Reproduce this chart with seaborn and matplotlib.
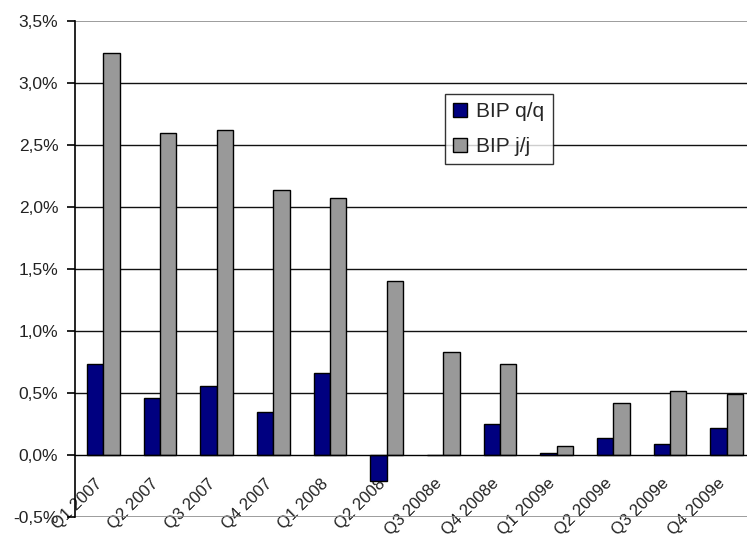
import matplotlib
matplotlib.use("Agg")
import matplotlib.pyplot as plt
import seaborn as sns
import pandas as pd
from matplotlib.ticker import FuncFormatter, MultipleLocator
from matplotlib.transforms import ScaledTranslation

quarters = ["Q1 2007", "Q2 2007", "Q3 2007", "Q4 2007", "Q1 2008", "Q2 2008",
            "Q3 2008e", "Q4 2008e", "Q1 2009e", "Q2 2009e", "Q3 2009e", "Q4 2009e"]
bip_qq = [0.73, 0.46, 0.56, 0.35, 0.66, -0.21, 0.0, 0.25, 0.014, 0.135, 0.087, 0.22]
bip_jj = [3.24, 2.60, 2.62, 2.14, 2.07, 1.40, 0.83, 0.73, 0.073, 0.42, 0.52, 0.49]
series = ["BIP q/q", "BIP j/j"]
colors = ["#000080", "#999999"]

df = pd.DataFrame({
    "Quartal": quarters * 2,
    "Wert": bip_qq + bip_jj,
    "Reihe": [series[0]] * len(quarters) + [series[1]] * len(quarters),
})

sns.set_style("white")
plt.rcParams["font.family"] = ["Liberation Sans", "DejaVu Sans"]

fig = plt.figure(figsize=(7.47, 5.38), dpi=100)
ax = fig.add_axes([75 / 747, 21 / 538, 680 / 747, 496 / 538])

sns.barplot(data=df, x="Quartal", y="Wert", hue="Reihe", order=quarters,
            hue_order=series, palette=colors, width=0.58, gap=0,
            edgecolor="black", linewidth=1.0, saturation=1, ax=ax, zorder=3)

ax.set_xlim(-0.5, len(quarters) - 0.5)
ax.set_ylim(-0.5, 3.5)
ax.yaxis.set_major_locator(MultipleLocator(0.5))
ax.yaxis.set_major_formatter(FuncFormatter(lambda v, _: f"{v:.1f}%".replace(".", ",")))

# horizontal gridlines inside the plot area
for v in [0.5, 1.0, 1.5, 2.0, 2.5, 3.0]:
    ax.axhline(v, color="#111111", lw=1.0, zorder=1)
ax.axhline(3.5, color="#8c8c8c", lw=1.2, zorder=1)
ax.axhline(-0.5, color="#8c8c8c", lw=1.2, zorder=1)

# category axis crosses at zero
ax.spines["bottom"].set_position(("data", 0))
ax.spines["bottom"].set_color("black")
ax.spines["bottom"].set_linewidth(1.0)
ax.spines["bottom"].set_zorder(4)
ax.spines["left"].set_color("black")
ax.spines["left"].set_linewidth(1.2)
ax.spines["top"].set_visible(False)
ax.spines["right"].set_visible(False)

ax.set_xticks(range(len(quarters)))
ax.set_xticks([i + 0.5 for i in range(len(quarters))], minor=True)
ax.tick_params(axis="x", which="major", length=0, pad=0)
ax.tick_params(axis="x", which="minor", length=5, width=1.2, color="black", direction="out")
ax.set_xticklabels(quarters, rotation=45, ha="right", va="top",
                   rotation_mode="anchor", fontsize=12, color="#222222")
shift = ScaledTranslation(-9 / 100, -21 / 100, fig.dpi_scale_trans)
for lab in ax.get_xticklabels():
    lab.set_transform(lab.get_transform() + shift)

ax.tick_params(axis="y", which="major", left=True, length=6, width=1.2,
               color="black", direction="out", labelsize=12.5, labelcolor="#222222", pad=6)

ax.set_xlabel("")
ax.set_ylabel("")

leg = ax.legend(loc="upper left", bbox_to_anchor=((445 - 75) / 680, (538 - 94 - 21) / 496),
                frameon=True, fancybox=False, edgecolor="black", fontsize=15,
                handlelength=0.65, handleheight=0.65, handletextpad=0.45,
                borderpad=0.4, labelspacing=0.75, borderaxespad=0)
leg.get_frame().set_linewidth(1.0)
leg.set_zorder(5)

fig.savefig("out.png", dpi=100)
